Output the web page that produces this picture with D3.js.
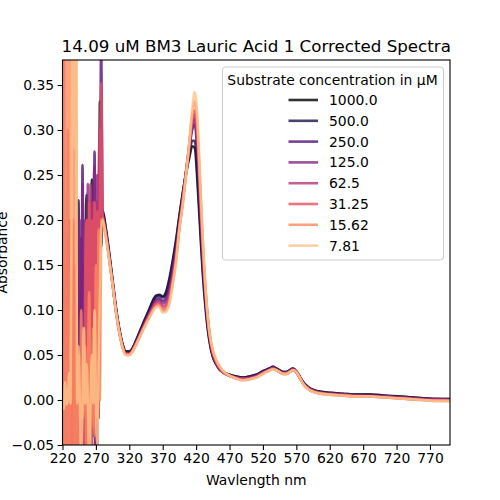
<!DOCTYPE html>
<html><head><meta charset="utf-8">
<script src="https://cdn.jsdelivr.net/npm/d3@7"></script>
<style>
body{margin:0;background:#fff;}
text{font-family:"DejaVu Sans",sans-serif;fill:#000;}
</style></head>
<body><svg id="c" width="500" height="500"></svg>
<script>
const seriesLabels = ["1000.0","500.0","250.0","125.0","62.5","31.25","15.62","7.81"];
const noiseWl = [220,222,224,226,228,230,232,234,236,238,240,242,244,246,248,250,252,254,256,258,260,262,264,266,268,270,272,274,276,278];
const smoothWl = [280,285,290,295,300,305,310,315,320,325,330,340,350,355,360,365,370,375,380,385,390,395,400,405,410,414,418,422,426,430,435,440,445,450,455,460,470,480,490,500,510,520,530,535,540,545,550,555,560,565,570,575,580,590,600,620,640,660,680,700,720,740,760,780,800];

const noise1000 = [-0.10,0.05,-0.10,0.10,-0.02,-0.10,0.08,-0.10,0.00,-0.10,0.05,-0.10,0.10,-0.10,0.10,-0.02,-0.10,0.12,0.228,-0.06,0.10,-0.10,0.245,0.0,0.15,-0.08,0.18,0.05,0.332,0.17];
const noise500 = [0.0,-0.10,0.15,-0.10,0.05,0.20,-0.10,0.0,-0.10,0.12,-0.10,0.15,0.222,-0.05,0.18,-0.10,0.15,0.0,-0.10,0.20,0.02,-0.10,0.20,-0.04,0.19,0.05,0.21,-0.02,0.20,0.18];
const noise250 = [-0.10,0.10,-0.10,0.02,0.18,-0.10,0.10,-0.05,0.15,-0.10,0.0,0.15,-0.10,0.12,0.0,0.261,-0.10,0.05,0.18,-0.10,0.20,-0.02,0.15,0.0,0.276,-0.05,0.22,0.0,0.20,0.40];
const noise125 = [0.0,-0.10,0.10,0.0,-0.10,0.05,-0.10,0.0,0.10,-0.10,0.0,0.15,-0.10,0.20,0.0,0.24,-0.10,0.20,0.0,0.24,-0.10,0.22,0.0,0.20,0.26,-0.05,0.25,0.0,0.28,0.21];
const noise62 = [0.0,-0.10,0.20,-0.10,0.10,0.0,-0.10,0.20,0.0,-0.10,0.15,-0.10,0.02,-0.05,-0.10,0.04,0.0,-0.06,0.20,0.20,0.0,0.24,-0.10,0.22,0.0,0.22,-0.10,0.24,0.30,0.21];
const noise31 = [-0.10,0.40,-0.10,0.0,0.30,-0.10,0.10,0.0,0.20,-0.10,0.05,0.05,-0.10,0.02,0.0,0.08,-0.08,0.15,0.20,-0.05,0.22,0.0,0.20,-0.03,0.22,0.02,0.21,-0.02,0.24,0.352];
const noise15 = [0.50,-0.10,0.50,-0.10,0.50,-0.10,0.50,-0.10,0.50,-0.10,0.50,-0.10,0.05,-0.06,0.10,-0.02,0.0,0.06,-0.08,0.02,0.12,-0.06,0.0,0.08,-0.04,0.15,-0.02,0.19,0.0,0.20];
const noise7 = [0.0,-0.01,0.02,-0.005,0.0,0.03,-0.004,0.30,0.50,0.28,0.45,-0.004,0.06,-0.004,-0.06,-0.004,0.08,-0.004,0.04,-0.004,-0.06,-0.004,0.05,-0.004,0.10,-0.004,-0.05,0.03,0.12,0.19];

const smooth1000 = [0.211,0.190,0.163,0.133,0.103,0.079,0.062,0.054,0.054,0.058,0.066,0.084,0.101,0.110,0.116,0.117,0.115,0.120,0.135,0.155,0.178,0.205,0.230,0.252,0.270,0.282,0.280,0.242,0.190,0.140,0.095,0.065,0.048,0.040,0.034,0.031,0.028,0.026,0.025,0.026,0.028,0.032,0.035,0.037,0.035,0.033,0.031,0.031,0.033,0.035,0.032,0.026,0.020,0.013,0.010,0.008,0.007,0.006,0.006,0.005,0.004,0.003,0.002,0.001,0.001];
const smooth500 = [0.209,0.188,0.161,0.131,0.101,0.078,0.061,0.053,0.053,0.057,0.065,0.083,0.100,0.109,0.115,0.116,0.114,0.118,0.132,0.152,0.175,0.203,0.229,0.253,0.274,0.288,0.288,0.252,0.198,0.146,0.099,0.067,0.049,0.040,0.034,0.031,0.028,0.026,0.025,0.026,0.028,0.032,0.035,0.037,0.035,0.033,0.031,0.031,0.033,0.035,0.032,0.026,0.020,0.013,0.010,0.008,0.007,0.006,0.006,0.005,0.004,0.003,0.002,0.001,0.001];
const smooth250 = [0.207,0.186,0.159,0.130,0.100,0.077,0.060,0.052,0.052,0.056,0.064,0.081,0.098,0.106,0.112,0.113,0.110,0.114,0.127,0.147,0.170,0.199,0.226,0.254,0.280,0.300,0.306,0.272,0.212,0.155,0.104,0.069,0.050,0.041,0.035,0.031,0.027,0.025,0.024,0.025,0.027,0.031,0.034,0.036,0.034,0.032,0.030,0.030,0.032,0.034,0.031,0.025,0.019,0.012,0.009,0.007,0.006,0.005,0.005,0.004,0.003,0.002,0.001,0.001,0.000];
const smooth125 = [0.206,0.185,0.158,0.129,0.100,0.077,0.060,0.052,0.052,0.056,0.063,0.080,0.096,0.104,0.110,0.111,0.107,0.110,0.122,0.142,0.166,0.196,0.224,0.254,0.282,0.304,0.312,0.280,0.220,0.160,0.107,0.071,0.051,0.041,0.035,0.031,0.027,0.025,0.024,0.025,0.027,0.031,0.034,0.036,0.034,0.032,0.030,0.030,0.032,0.034,0.031,0.025,0.019,0.012,0.009,0.007,0.006,0.005,0.005,0.004,0.003,0.002,0.001,0.001,0.000];
const smooth62 = [0.205,0.184,0.157,0.129,0.099,0.076,0.059,0.051,0.051,0.055,0.063,0.079,0.095,0.102,0.108,0.109,0.104,0.106,0.117,0.137,0.162,0.193,0.222,0.254,0.284,0.308,0.317,0.288,0.228,0.166,0.110,0.073,0.052,0.042,0.035,0.031,0.027,0.025,0.024,0.024,0.026,0.030,0.034,0.035,0.034,0.031,0.030,0.030,0.032,0.034,0.031,0.025,0.019,0.012,0.009,0.007,0.006,0.005,0.004,0.004,0.003,0.002,0.001,0.000,0.000];
const smooth31 = [0.204,0.183,0.157,0.128,0.099,0.076,0.059,0.051,0.051,0.055,0.062,0.078,0.094,0.101,0.107,0.107,0.101,0.103,0.113,0.133,0.158,0.192,0.220,0.253,0.286,0.312,0.322,0.295,0.234,0.171,0.112,0.074,0.053,0.043,0.036,0.031,0.027,0.024,0.023,0.024,0.026,0.030,0.033,0.035,0.033,0.031,0.029,0.029,0.031,0.033,0.031,0.025,0.018,0.011,0.008,0.006,0.005,0.004,0.004,0.003,0.002,0.001,0.000,0.000,-0.001];
const smooth15 = [0.202,0.181,0.156,0.128,0.098,0.075,0.058,0.050,0.050,0.054,0.061,0.077,0.092,0.099,0.104,0.105,0.099,0.100,0.109,0.130,0.155,0.191,0.218,0.252,0.287,0.317,0.332,0.305,0.240,0.176,0.114,0.075,0.055,0.044,0.037,0.032,0.027,0.024,0.022,0.023,0.025,0.029,0.033,0.034,0.033,0.031,0.029,0.029,0.031,0.033,0.031,0.025,0.018,0.011,0.008,0.006,0.005,0.004,0.004,0.003,0.002,0.001,0.000,-0.001,-0.001];
const smooth7 = [0.200,0.180,0.155,0.128,0.098,0.075,0.058,0.050,0.050,0.054,0.061,0.077,0.091,0.098,0.103,0.103,0.097,0.098,0.107,0.128,0.153,0.190,0.217,0.250,0.287,0.322,0.342,0.312,0.244,0.180,0.115,0.075,0.056,0.045,0.038,0.033,0.027,0.024,0.022,0.023,0.025,0.029,0.033,0.034,0.033,0.031,0.029,0.029,0.031,0.033,0.031,0.025,0.018,0.011,0.008,0.006,0.005,0.004,0.004,0.003,0.002,0.001,0.000,-0.001,-0.001];

const xTicks = [220,270,320,370,420,470,520,570,620,670,720,770];
const yTicks = [-0.05,0,0.05,0.10,0.15,0.20,0.25,0.30,0.35];

const noiseSets = [noise1000,noise500,noise250,noise125,noise62,noise31,noise15,noise7];
const smoothSets = [smooth1000,smooth500,smooth250,smooth125,smooth62,smooth31,smooth15,smooth7];

const L=62.5,R=450,T=60,B=445;
const svg=d3.select("#c");
const x=d3.scaleLinear().domain([220,800]).range([L,R]);
const y=d3.scaleLinear().domain([-0.05,0.3778]).range([B,T]);
const color=i=>d3.interpolateMagma(i/8);

svg.append("defs").append("clipPath").attr("id","clip").append("rect")
  .attr("x",L).attr("y",T).attr("width",R-L).attr("height",B-T);

const line=d3.line().x(d=>x(d[0])).y(d=>y(d[1])).curve(d3.curveMonotoneX);
const g=svg.append("g").attr("clip-path","url(#clip)");
seriesLabels.forEach((lab,i)=>{
  const pts=noiseWl.map((w,k)=>[w,noiseSets[i][k]]).concat(smoothWl.map((w,k)=>[w,smoothSets[i][k]]));
  g.append("path").attr("d",line(pts)).attr("fill","none")
   .attr("stroke",color(i)).attr("stroke-opacity",0.8).attr("stroke-width",2.6)
   .attr("stroke-linejoin","round");
});

// axes
const fmt=d=>(d<0?"\u2212":"")+Math.abs(d).toFixed(2);
const xa=svg.append("g").attr("transform",`translate(0,${B})`)
  .call(d3.axisBottom(x).tickValues(xTicks).tickSize(4.9).tickPadding(3.5).tickFormat(d3.format("d")));
const ya=svg.append("g").attr("transform",`translate(${L},0)`)
  .call(d3.axisLeft(y).tickValues(yTicks).tickSize(4.9).tickPadding(3.5).tickFormat(fmt));
[xa,ya].forEach(a=>{a.select(".domain").remove();
  a.selectAll("line").attr("stroke","#000").attr("stroke-width",1.1);
  a.selectAll("text").attr("font-size",13.9).attr("font-family","DejaVu Sans").attr("fill","#000");});
svg.append("rect").attr("x",L).attr("y",T).attr("width",R-L).attr("height",B-T)
  .attr("fill","none").attr("stroke","#000").attr("stroke-width",1.1);

svg.append("text").attr("x",(L+R)/2).attr("y",52).attr("text-anchor","middle")
  .attr("font-size",16.7).text("14.09 uM BM3 Lauric Acid 1 Corrected Spectra");
svg.append("text").attr("x",(L+R)/2).attr("y",485).attr("text-anchor","middle")
  .attr("font-size",13.9).text("Wavlength nm");
svg.append("text").attr("transform",`translate(7,${(T+B)/2}) rotate(-90)`).attr("text-anchor","middle")
  .attr("font-size",13.9).text("Absorbance");

// legend
const lg=svg.append("g");
lg.append("rect").attr("x",222.5).attr("y",67).attr("width",221).attr("height",193).attr("rx",3)
  .attr("fill","#fff").attr("fill-opacity",0.8).attr("stroke","#cccccc").attr("stroke-width",1);
lg.append("text").attr("x",332.5).attr("y",84.5).attr("text-anchor","middle").attr("font-size",13.9)
  .text("Substrate concentration in \u03bcM");
seriesLabels.forEach((lab,i)=>{
  const yy=100+i*20.8;
  lg.append("line").attr("x1",288.5).attr("x2",318).attr("y1",yy).attr("y2",yy)
    .attr("stroke",color(i)).attr("stroke-opacity",0.8).attr("stroke-width",2.6);
  lg.append("text").attr("x",329).attr("y",yy+5).attr("font-size",13.9).text(lab);
});
</script></body></html>
